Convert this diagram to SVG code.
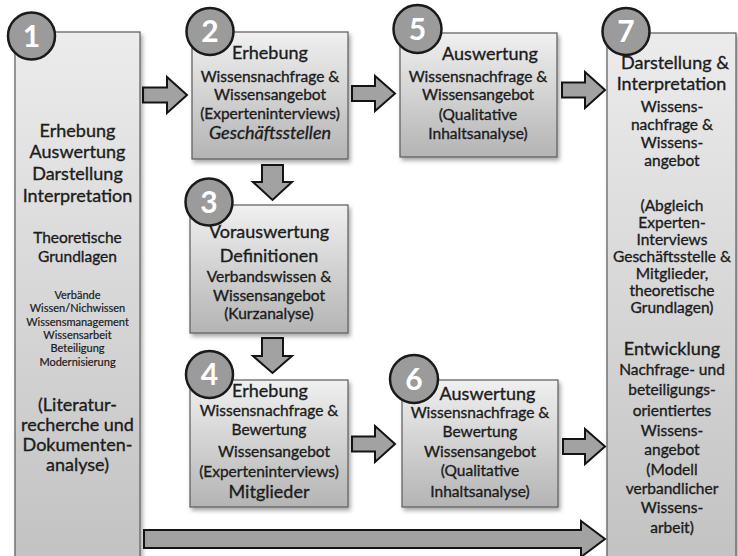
<svg xmlns="http://www.w3.org/2000/svg" width="738" height="556" viewBox="0 0 738 556">
<defs>
<linearGradient id="gBox" x1="0" y1="0" x2="0" y2="1">
<stop offset="0" stop-color="#f0f0f0"/>
<stop offset="1" stop-color="#b4b4b4"/>
</linearGradient>
<linearGradient id="gTall" x1="0" y1="0" x2="0" y2="1">
<stop offset="0" stop-color="#ececec"/>
<stop offset="1" stop-color="#c2c2c2"/>
</linearGradient>
<filter id="sh" x="-10%" y="-10%" width="130%" height="130%">
<feDropShadow dx="2" dy="3" stdDeviation="2" flood-color="#000" flood-opacity="0.35"/>
</filter>
<style>
.box{fill:url(#gBox);stroke:#5a5a5a;stroke-width:1.2;filter:url(#sh)}
.tall{fill:url(#gTall);stroke:#5a5a5a;stroke-width:1.2;filter:url(#sh)}
.num{fill:#9b9b9b;stroke:#1a1a1a;stroke-width:2.5}
.nt{font-family:Lato,"Open Sans",sans-serif;font-weight:700;font-size:30px;fill:#fff;stroke:none;text-anchor:middle}
.arr{fill:#a2a2a2;stroke:#141414;stroke-width:2;stroke-linejoin:miter}
text{font-family:Lato,"Liberation Sans",sans-serif;fill:#1c1c1c;stroke:#1c1c1c;stroke-width:0.35;text-anchor:middle}
.h{font-size:18px}
.m{font-size:15.5px}
.s{font-size:11px;stroke-width:0.2}
.i{font-size:18px;font-style:italic}
</style>
</defs>
<rect width="738" height="556" fill="#fff"/>
<g id="connectors">
<path class="arr" d="M143 87.5H167V77L187 95L167 113V102.5H143Z"/>
<path class="arr" d="M352 86H375V76L395 93.5L375 111V101H352Z"/>
<path class="arr" d="M562 82.5H585V72L605 90L585 108V97.5H562Z"/>
<path class="arr" d="M352 436.5H375V426L395 444L375 462V451.5H352Z"/>
<path class="arr" d="M563 439H585V429L605 446.5L585 464V454H563Z"/>
<path class="arr" d="M262 165H283V182H292L272.5 200L253 182H262Z"/>
<path class="arr" d="M262 338H283V356H292L272.5 373L253 356H262Z"/>
<path class="arr" d="M144 530H581V521L605 539L581 557V548H144Z"/>
</g>
<g id="node1">
<rect class="tall" x="15" y="32" width="125" height="530"/>
<text class="h" x="77.5" y="137">Erhebung</text>
<text class="h" x="77.5" y="158">Auswertung</text>
<text class="h" x="77.5" y="180">Darstellung</text>
<text class="h" x="77.5" y="202">Interpretation</text>
<text class="m" x="77.5" y="243">Theoretische</text>
<text class="m" x="77.5" y="262">Grundlagen</text>
<text class="s" x="77.5" y="299">Verbände</text>
<text class="s" x="77.5" y="312">Wissen/Nichwissen</text>
<text class="s" x="77.5" y="325.5">Wissensmanagement</text>
<text class="s" x="77.5" y="339">Wissensarbeit</text>
<text class="s" x="77.5" y="352">Beteiligung</text>
<text class="s" x="77.5" y="365.5">Modernisierung</text>
<text class="h" x="77.5" y="411">(Literatur-</text>
<text class="h" x="77.5" y="431">recherche und</text>
<text class="h" x="77.5" y="451">Dokumenten-</text>
<text class="h" x="77.5" y="471">analyse)</text>
<circle class="num" cx="31.5" cy="36" r="23.5"/>
<text class="nt" x="31.5" y="46.5">1</text>
</g>
<g id="node2">
<rect class="box" x="192" y="32" width="156" height="127"/>
<text class="h" x="270" y="59">Erhebung</text>
<text class="m" x="270" y="82">Wissensnachfrage  &amp;</text>
<text class="m" x="270" y="100">Wissensangebot</text>
<text class="m" x="270" y="118.5">(Experteninterviews)</text>
<text class="i" x="270" y="139">Geschäftsstellen</text>
<circle class="num" cx="210" cy="31.5" r="23.5"/>
<text class="nt" x="210" y="42">2</text>
</g>
<g id="node3">
<rect class="box" x="190" y="205" width="158" height="128"/>
<text class="h" x="269" y="238">Vorauswertung</text>
<text class="h" x="269" y="262">Definitionen</text>
<text class="m" x="269" y="282">Verbandswissen &amp;</text>
<text class="m" x="269" y="301">Wissensangebot</text>
<text class="m" x="269" y="319">(Kurzanalyse)</text>
<circle class="num" cx="209" cy="202" r="23.5"/>
<text class="nt" x="209" y="212.5">3</text>
</g>
<g id="node4">
<rect class="box" x="190" y="380" width="158" height="127"/>
<text class="h" x="270" y="397">Erhebung</text>
<text class="m" x="269" y="416">Wissensnachfrage  &amp;</text>
<text class="m" x="269" y="435">Bewertung</text>
<text class="m" x="274" y="457">Wissensangebot</text>
<text class="m" x="269" y="477">(Experteninterviews)</text>
<text class="h" x="269" y="498">Mitglieder</text>
<circle class="num" cx="209.5" cy="374.5" r="23.5"/>
<text class="nt" x="209.5" y="385">4</text>
</g>
<g id="node5">
<rect class="box" x="400" y="33" width="157" height="124"/>
<text class="h" x="490" y="60">Auswertung</text>
<text class="m" x="478" y="82">Wissensnachfrage  &amp;</text>
<text class="m" x="478" y="100">Wissensangebot</text>
<text class="m" x="478" y="120">(Qualitative</text>
<text class="m" x="478" y="139">Inhaltsanalyse)</text>
<circle class="num" cx="417.5" cy="29" r="24"/>
<text class="nt" x="417.5" y="39.5">5</text>
</g>
<g id="node6">
<rect class="box" x="402" y="380" width="156" height="127"/>
<text class="h" x="487.5" y="400">Auswertung</text>
<text class="m" x="480" y="418">Wissensnachfrage  &amp;</text>
<text class="m" x="480" y="437">Bewertung</text>
<text class="m" x="480" y="457">Wissensangebot</text>
<text class="m" x="480" y="476">(Qualitative</text>
<text class="m" x="480" y="497">Inhaltsanalyse)</text>
<circle class="num" cx="414" cy="379" r="24"/>
<text class="nt" x="414" y="389.5">6</text>
</g>
<g id="node7">
<rect class="tall" x="607" y="33" width="129" height="530"/>
<text class="h" x="675" y="69">Darstellung &amp;</text>
<text class="h" x="671.5" y="90">Interpretation</text>
<text class="m" x="672" y="112">Wissens-</text>
<text class="m" x="672" y="130">nachfrage &amp;</text>
<text class="m" x="672" y="148">Wissens-</text>
<text class="m" x="672" y="166">angebot</text>
<text class="m" x="672" y="211">(Abgleich</text>
<text class="m" x="672" y="228">Experten-</text>
<text class="m" x="672" y="245">Interviews</text>
<text class="m" x="672" y="262">Geschäftsstelle &amp;</text>
<text class="m" x="672" y="279">Mitglieder,</text>
<text class="m" x="672" y="296">theoretische</text>
<text class="m" x="672" y="313">Grundlagen)</text>
<text class="h" x="672" y="355">Entwicklung</text>
<text class="m" x="672" y="375">Nachfrage- und</text>
<text class="m" x="672" y="395">beteiligungs-</text>
<text class="m" x="672" y="416">orientiertes</text>
<text class="m" x="672" y="436">Wissens-</text>
<text class="m" x="672" y="455">angebot</text>
<text class="m" x="672" y="475">(Modell</text>
<text class="m" x="672" y="494">verbandlicher</text>
<text class="m" x="672" y="513">Wissens-</text>
<text class="m" x="672" y="533">arbeit)</text>
<circle class="num" cx="626" cy="31.5" r="23.5"/>
<text class="nt" x="626" y="42">7</text>
</g>
</svg>
